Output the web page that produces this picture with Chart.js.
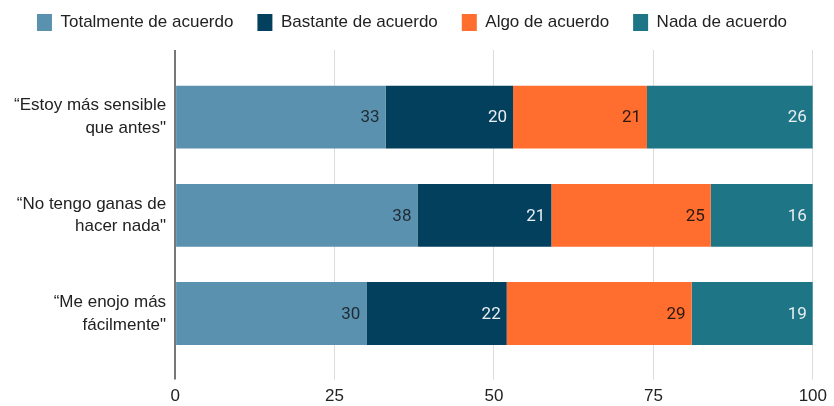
<!DOCTYPE html>
<html>
<head>
<meta charset="utf-8">
<script src="https://cdn.jsdelivr.net/npm/chart.js@4.4.1/dist/chart.umd.min.js"></script>
<style>
  html, body { margin: 0; padding: 0; background: #fff; }
  #wrap { width: 834px; height: 406px; }
</style>
</head>
<body>
<div id="wrap"><canvas id="chart"></canvas></div>
<script>
const statements = [
    ['\u201CEstoy más sensible', 'que antes"'],
    ['\u201CNo tengo ganas de', 'hacer nada"'],
    ['\u201CMe enojo más', 'fácilmente"']
];
const seriesNames = ['Totalmente de acuerdo', 'Bastante de acuerdo', 'Algo de acuerdo', 'Nada de acuerdo'];
const totalmente = [33, 38, 30];
const bastante = [20, 21, 22];
const algo = [21, 25, 29];
const nada = [26, 16, 19];
const xTicks = [0, 25, 50, 75, 100];

const colors = ['#5a91af', '#02405e', '#ff6d2f', '#1e7585'];
const labelColors = ['#1f2a33', '#e8eef2', '#2a1a10', '#e8eef2'];

// value labels drawn at the right end of each segment
const segmentLabels = {
    id: 'segmentLabels',
    afterDatasetsDraw(chart) {
        const ctx = chart.ctx;
        ctx.save();
        ctx.font = '17px Roboto';
        ctx.textAlign = 'right';
        ctx.textBaseline = 'middle';
        chart.data.datasets.forEach((ds, i) => {
            const meta = chart.getDatasetMeta(i);
            meta.data.forEach((bar, j) => {
                ctx.fillStyle = labelColors[i];
                ctx.fillText(String(ds.data[j]), bar.x - 6, bar.y + 1);
            });
        });
        ctx.restore();
    }
};

// keep the legend box short even with wide item padding
const legendHeight = {
    id: 'legendHeight',
    beforeInit(chart) {
        const legend = chart.legend;
        if (!legend) return;
        const fit = legend.fit;
        legend.fit = function () {
            fit.call(this);
            this.height = 60;
        };
    }
};

const values = [totalmente, bastante, algo, nada];

new Chart(document.getElementById('chart'), {
    type: 'bar',
    data: {
        labels: statements,
        datasets: seriesNames.map((name, i) => ({
            label: name,
            data: values[i],
            backgroundColor: colors[i],
            borderWidth: 0,
            categoryPercentage: 1,
            barPercentage: 0.64
        }))
    },
    options: {
        indexAxis: 'y',
        responsive: true,
        maintainAspectRatio: false,
        animation: false,
        layout: { padding: { left: 5, right: 15, top: -10, bottom: -8 } },
        plugins: {
            legend: {
                position: 'top',
                labels: {
                    font: { family: 'Liberation Sans', size: 17 },
                    color: '#222',
                    boxWidth: 15,
                    boxHeight: 17,
                    padding: 24
                }
            },
            tooltip: { enabled: false }
        },
        scales: {
            x: {
                stacked: true,
                min: 0,
                max: 100,
                afterBuildTicks: scale => { scale.ticks = xTicks.map(v => ({ value: v })); },
                grid: {
                    color: c => c.index === 0 ? '#777' : '#dcdcdc',
                    lineWidth: c => c.index === 0 ? 2 : 1,
                    tickLength: 17
                },
                border: { display: false },
                ticks: {
                    font: { family: 'Liberation Sans', size: 17 },
                    color: '#222',
                    padding: 7
                }
            },
            x2: {
                position: 'top',
                min: 0,
                max: 100,
                afterBuildTicks: scale => { scale.ticks = xTicks.map(v => ({ value: v })); },
                grid: {
                    color: c => c.index === 0 ? '#777' : '#dcdcdc',
                    lineWidth: c => c.index === 0 ? 2 : 1,
                    tickLength: 18
                },
                border: { display: false },
                ticks: { display: false }
            },
            y: {
                stacked: true,
                grid: { display: false, drawTicks: false },
                border: { display: false },
                ticks: {
                    font: { family: 'Liberation Sans', size: 17, lineHeight: 1.35 },
                    color: '#222',
                    padding: 9
                }
            }
        }
    },
    plugins: [segmentLabels, legendHeight]
});
</script>
</body>
</html>
